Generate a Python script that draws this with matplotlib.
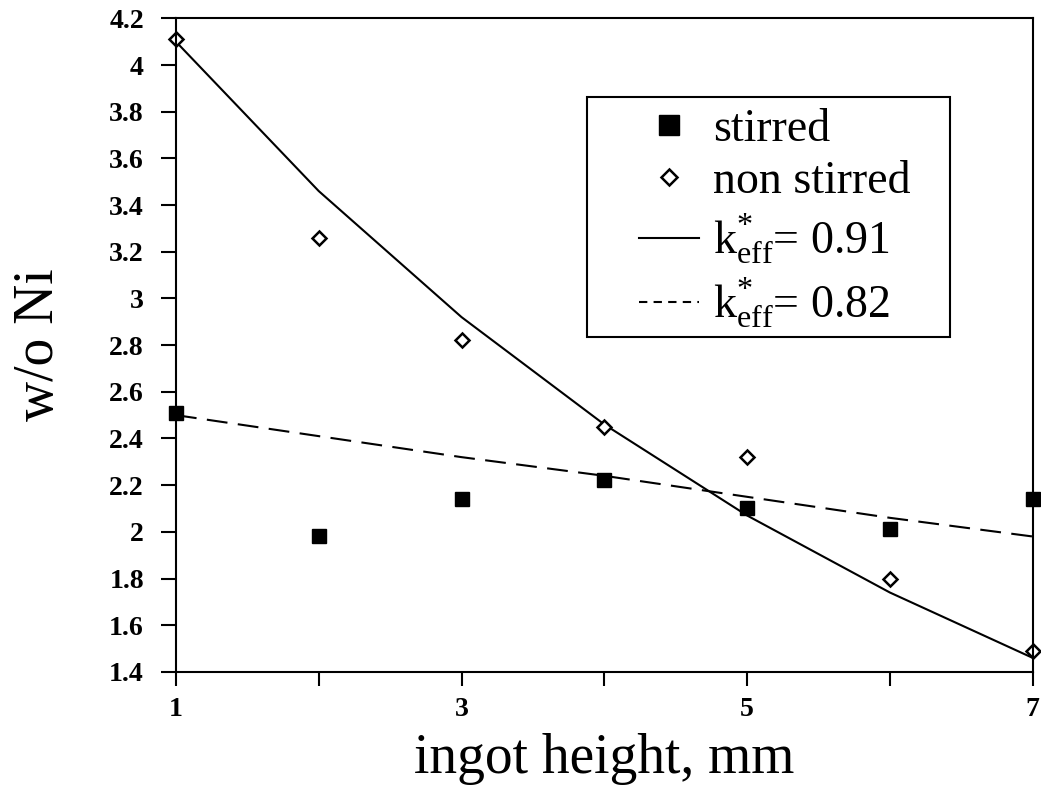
import numpy as np
import matplotlib.pyplot as plt
from matplotlib.lines import Line2D
from matplotlib.patches import Rectangle
from matplotlib.ticker import FixedLocator

plt.rcParams['font.family'] = ['Liberation Serif', 'DejaVu Serif']
plt.rcParams['mathtext.fontset'] = 'custom'
plt.rcParams['mathtext.rm'] = 'Liberation Serif'
plt.rcParams['mathtext.it'] = 'Liberation Serif:italic'

# measured points
height = [1, 2, 3, 4, 5, 6, 7]
stirred = [2.51, 1.98, 2.14, 2.22, 2.10, 2.01, 2.14]
non_stirred = [4.11, 3.26, 2.82, 2.45, 2.32, 1.80, 1.49]

# model curves
fit_091 = [4.10, 3.46, 2.92, 2.46, 2.07, 1.74, 1.46]
fit_082 = [2.50, 2.41, 2.32, 2.24, 2.15, 2.06, 1.98]

ytick_vals = [1.4, 1.6, 1.8, 2.0, 2.2, 2.4, 2.6, 2.8, 3.0, 3.2, 3.4, 3.6, 3.8, 4.0, 4.2]
ytick_text = ['1.4', '1.6', '1.8', '2', '2.2', '2.4', '2.6', '2.8', '3',
              '3.2', '3.4', '3.6', '3.8', '4', '4.2']

fig = plt.figure(figsize=(10.41, 7.97), dpi=100)
ax = fig.add_axes([0.169, 0.157, 0.823, 0.820])

ax.plot(height, fit_091, '-', color='black', lw=1.5)
ax.plot(height, fit_082, color='black', lw=1.5, dashes=(10, 5))
ax.plot(height, stirred, 's', color='black', ms=10, clip_on=False)
ax.plot(height, non_stirred, 'D', mfc='white', mec='black', mew=1.8, ms=7,
        clip_on=False)

ax.set_xlim(1, 7)
ax.set_ylim(1.4, 4.2)
ax.xaxis.set_major_locator(FixedLocator([1, 3, 5, 7]))
ax.xaxis.set_minor_locator(FixedLocator([2, 4, 6]))
ax.set_yticks(ytick_vals)
ax.set_yticklabels(ytick_text, fontsize=20, fontweight='bold')
ax.set_xticklabels(['1', '3', '5', '7'], fontsize=20, fontweight='bold')
ax.tick_params(axis='both', which='both', direction='out', width=1.5)
ax.tick_params(axis='y', length=11, pad=12)
ax.tick_params(axis='x', which='both', length=10, pad=8)
for s in ax.spines.values():
    s.set_linewidth(1.5)

ax.set_xlabel('ingot height, mm', fontsize=40, labelpad=8)
ax.set_ylabel('w/o Ni', fontsize=40, labelpad=32)

# legend
handles = [
    Line2D([], [], ls='none', marker='s', color='black', ms=14),
    Line2D([], [], ls='none', marker='D', mfc='white', mec='black', mew=1.8, ms=8),
    Line2D([], [], ls='-', color='black', lw=1.5),
    Line2D([], [], color='black', lw=1.5, dashes=(4, 3)),
]
labels = ['stirred', 'non stirred',
          r'$\mathrm{k}^{*}_{\mathrm{eff}}$= 0.91',
          r'$\mathrm{k}^{*}_{\mathrm{eff}}$= 0.82']
ax.add_patch(Rectangle((0.48, 0.512), 0.423, 0.367, transform=ax.transAxes,
                       fill=False, ec='black', lw=1.5, zorder=5))
ax.legend(handles, labels, loc='upper left', bbox_to_anchor=(0.541, 0.862),
          fontsize=33, frameon=False, handlelength=1.3, handletextpad=0.3,
          labelspacing=0.2, borderpad=0, borderaxespad=0)

fig.savefig('out.png', dpi=100)
